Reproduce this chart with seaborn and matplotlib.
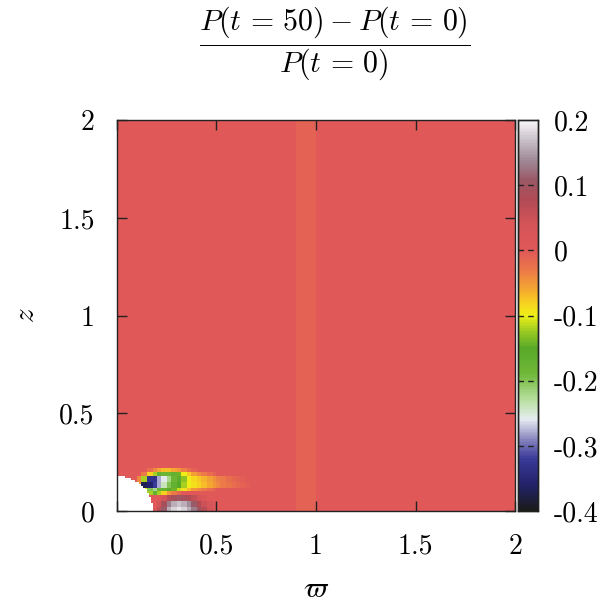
import numpy as np
import pandas as pd
import seaborn as sns
import matplotlib
matplotlib.use("Agg")
import matplotlib.pyplot as plt
from matplotlib.colors import LinearSegmentedColormap

# ---------------- data ----------------
x_range = [0.0, 2.0]
z_range = [0.0, 2.0]
background_value = 0.0
band_x = [0.9, 1.0]          # slightly negative vertical band
band_value = -0.009
body_radius = 0.18           # white (masked) quarter disc at origin
patch_step = 0.025           # spacing of the wake table below

# wake table: rows from z=0 upward, columns from x=0 rightward (step 0.025)
wake_row0 = [0, 0, 0, 0, 0, 0, 0, 0.01, 0.06, 0.11, 0.16, 0.18, 0.19, 0.18, 0.16, 0.13, 0.10, 0.07, 0.04, 0.02, 0, 0, 0, 0, 0, 0, 0, 0, 0, 0]
wake_row1 = [0, 0, 0, 0, 0, 0, 0, 0, 0.04, 0.09, 0.13, 0.16, 0.17, 0.16, 0.14, 0.11, 0.08, 0.05, 0.03, 0.01, 0, 0, 0, 0, 0, 0, 0, 0, 0, 0]
wake_row2 = [0, 0, 0, 0, 0, 0, 0, 0, 0, 0.04, 0.07, 0.09, 0.10, 0.09, 0.08, 0.06, 0.04, 0.02, 0, 0, 0, 0, 0, 0, 0, 0, 0, 0, 0, 0]
wake_row3 = [0, 0, 0, 0, 0, 0, -0.12, -0.17, -0.12, -0.08, -0.05, -0.03, -0.015, 0, 0, 0, 0, 0, 0, 0, 0, 0, 0, 0, 0, 0, 0, 0, 0, 0]
wake_row4 = [0, 0, 0, 0, 0, -0.10, -0.20, -0.22, -0.18, -0.17, -0.16, -0.14, -0.11, -0.09, -0.07, -0.05, -0.04, -0.03, -0.02, -0.01, 0, 0, 0, 0, 0, 0, 0, 0, 0, 0]
wake_row5 = [0, 0, 0, 0, -0.05, -0.37, -0.36, -0.32, -0.28, -0.24, -0.20, -0.17, -0.15, -0.12, -0.10, -0.09, -0.08, -0.07, -0.06, -0.05, -0.04, -0.03, -0.025, -0.02, -0.015, -0.01, -0.005, 0, 0, 0]
wake_row6 = [0, 0, 0, 0, -0.04, -0.12, -0.33, -0.33, -0.28, -0.26, -0.22, -0.18, -0.16, -0.13, -0.10, -0.085, -0.075, -0.065, -0.055, -0.045, -0.035, -0.03, -0.02, -0.015, -0.01, -0.005, 0, 0, 0, 0]
wake_row7 = [0, 0, 0, 0, 0, -0.03, -0.08, -0.12, -0.17, -0.18, -0.18, -0.17, -0.14, -0.10, -0.075, -0.055, -0.04, -0.03, -0.02, -0.01, 0, 0, 0, 0, 0, 0, 0, 0, 0, 0]
wake_row8 = [0, 0, 0, 0, 0, 0, -0.02, -0.04, -0.06, -0.07, -0.07, -0.06, -0.05, -0.035, -0.02, -0.01, 0, 0, 0, 0, 0, 0, 0, 0, 0, 0, 0, 0, 0, 0]

x_ticks = [0, 0.5, 1, 1.5, 2]
x_tick_labels = ["0", "0.5", "1", "1.5", "2"]
z_ticks = [0, 0.5, 1, 1.5, 2]
z_tick_labels = ["0", "0.5", "1", "1.5", "2"]
cbar_ticks = [-0.4, -0.3, -0.2, -0.1, 0.0, 0.1, 0.2]
cbar_tick_labels = ["-0.4", "-0.3", "-0.2", "-0.1", "0", "0.1", "0.2"]
v_min, v_max = -0.4, 0.2

cmap_values = [-0.4, -0.36, -0.32, -0.29, -0.26, -0.23, -0.19, -0.15, -0.12, -0.1,
               -0.08, -0.06, -0.03, 0.0, 0.04, 0.08, 0.11, 0.14, 0.17, 0.2]
cmap_colors = ["#1a1a1a", "#22226a", "#3a3a9a", "#8a88c0", "#e6ecf0", "#b8e0a0",
               "#70b838", "#58a828", "#a8d020", "#f0f018", "#f8d020", "#f4a830",
               "#ec7848", "#e05858", "#d45458", "#b04a55", "#9a5a68", "#a08a98",
               "#c8c0c8", "#f8f6f8"]

title_text = r"$\dfrac{P(t\,=\,50)-P(t\,=\,0)}{P(t\,=\,0)}$"
x_label = r"$\varpi$"
z_label = r"$z$"

# ---------------- build field ----------------
plt.rcParams["font.family"] = "serif"
plt.rcParams["font.serif"] = ["cmr10", "DejaVu Serif"]
plt.rcParams["mathtext.fontset"] = "cm"
plt.rcParams["axes.unicode_minus"] = False
plt.rcParams["axes.formatter.use_mathtext"] = True

wake = np.array([wake_row0, wake_row1, wake_row2, wake_row3, wake_row4,
                 wake_row5, wake_row6, wake_row7, wake_row8], dtype=float)

N = 200
xc = x_range[0] + (np.arange(N) + 0.5) * (x_range[1] - x_range[0]) / N
zc = z_range[0] + (np.arange(N) + 0.5) * (z_range[1] - z_range[0]) / N
XX, ZZ = np.meshgrid(xc, zc)
field = np.full((N, N), background_value)
field[(XX >= band_x[0]) & (XX < band_x[1])] = band_value
pi = (ZZ / patch_step).astype(int)
pj = (XX / patch_step).astype(int)
inside = (pi < wake.shape[0]) & (pj < wake.shape[1])
field[inside] = wake[pi[inside], pj[inside]]
field[np.hypot(XX, ZZ) < body_radius] = np.nan
df = pd.DataFrame(field)

cmap = LinearSegmentedColormap.from_list(
    "pc", list(zip([(v - v_min) / (v_max - v_min) for v in cmap_values], cmap_colors)))

# ---------------- draw ----------------
fig = plt.figure(figsize=(6.06, 6.04), dpi=100)
ax = fig.add_axes([0.193, 0.154, 0.657, 0.647])
cax = fig.add_axes([0.855, 0.154, 0.033, 0.647])

sns.heatmap(df, ax=ax, cmap=cmap, vmin=v_min, vmax=v_max, cbar_ax=cax,
            xticklabels=False, yticklabels=False, rasterized=True)
ax.set_xlim(0, N)
ax.set_ylim(0, N)

def to_idx(v, rng):
    return (v - rng[0]) / (rng[1] - rng[0]) * N

ax.set_xticks([to_idx(v, x_range) for v in x_ticks])
ax.set_xticklabels(x_tick_labels)
ax.set_yticks([to_idx(v, z_range) for v in z_ticks])
ax.set_yticklabels(z_tick_labels)
ax.tick_params(direction="in", top=True, right=True, length=7, width=1.0,
               labelsize=20, pad=16, color="#222222")
for s in ax.spines.values():
    s.set_visible(True)
    s.set_linewidth(1.0)
    s.set_color("#222222")

ax.set_xlabel(x_label, fontsize=21, labelpad=12)
ax.set_ylabel(z_label, fontsize=21, labelpad=14)

cax.set_yticks(cbar_ticks)
cax.set_yticklabels(cbar_tick_labels)
cax.tick_params(length=0, labelsize=20, pad=11)
for t in cbar_ticks[1:-1]:
    cax.axhline(t, color="#222222", lw=1.0, ls=(0, (4, 3)))
for s in cax.spines.values():
    s.set_visible(True)
    s.set_linewidth(1.0)
    s.set_color("#222222")

fig.text(0.553, 0.929, title_text, ha="center", va="center", fontsize=21.5)

fig.savefig("out.png", dpi=100)
